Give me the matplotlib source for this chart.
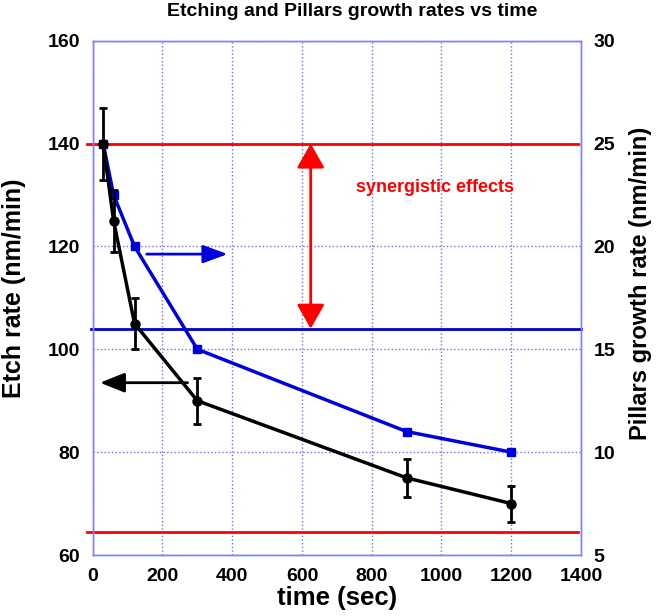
import numpy as np
import matplotlib.pyplot as plt

plt.rcParams['font.family'] = ['Liberation Sans', 'DejaVu Sans']
plt.rcParams['font.weight'] = 'bold'

# data
time_s = [30, 60, 120, 300, 900, 1200]
etch_rate = [140, 125, 105, 90, 75, 70]
etch_err_lo = [7, 6, 5, 4.5, 3.7, 3.5]
etch_err_hi = [7, 6, 5, 4.5, 3.7, 3.5]
pillar_rate = [25, 22.5, 20, 15, 11, 10]
x_ticks = [0, 200, 400, 600, 800, 1000, 1200, 1400]
left_ticks = [60, 80, 100, 120, 140, 160]
right_ticks = [5, 10, 15, 20, 25, 30]
red_levels = [140, 64.5]   # on etch-rate scale
blue_level = 104

grid_c = '#6f6fff'

fig = plt.figure(figsize=(6.61, 6.16), dpi=100)
ax = fig.add_axes([0.1402, 0.099, 0.7388, 0.835])
ax2 = ax.twinx()

ax.set_xlim(0, 1400)
ax.set_ylim(60, 160)
ax2.set_ylim(5, 30)
ax.set_xticks(x_ticks, labels=[str(v) for v in x_ticks], fontweight='bold')
ax.set_yticks(left_ticks, labels=[str(v) for v in left_ticks], fontweight='bold')
ax2.set_yticks(right_ticks, labels=[str(v) for v in right_ticks], fontweight='bold')

ax.grid(True, color=grid_c, linestyle=':', linewidth=1)
for a in (ax, ax2):
    for s in a.spines.values():
        s.set_color('#8080ff')
        s.set_linewidth(1)
    a.tick_params(length=0, labelsize=14, pad=9)
ax.tick_params(axis='x', pad=9)

# horizontal reference lines
for lv in red_levels:
    ax.plot([-17, 1392], [lv, lv], color='red', lw=2, clip_on=False, zorder=2)
ax.plot([-5, 1400], [blue_level, blue_level], color='#0000cc', lw=2, clip_on=False, zorder=2)

# pillars growth rate (right axis, drawn in left-axis units)
pill_left = [60 + (p - 5) * 4 for p in pillar_rate]
ax.plot(time_s, pill_left, color='#0000dd', lw=2.5, marker='s', ms=6, zorder=4)

# etch rate with error bars
ax.errorbar(time_s, etch_rate, yerr=[etch_err_lo, etch_err_hi], color='black',
            lw=2.5, marker='o', ms=6.5, capsize=2.8, elinewidth=2, capthick=2, zorder=5)

# arrows
ax.annotate('', xy=(395, 118.5), xytext=(147, 118.5),
            arrowprops=dict(arrowstyle='-|>,head_length=1.5,head_width=0.55',
                            color='#0000dd', lw=2))
ax.annotate('', xy=(13, 93.5), xytext=(280, 93.5),
            arrowprops=dict(arrowstyle='-|>,head_length=1.5,head_width=0.6',
                            color='black', lw=2))
ax.annotate('', xy=(625, 140), xytext=(625, 104),
            arrowprops=dict(arrowstyle='<|-|>,head_length=1.5,head_width=0.85',
                            color='red', lw=2, shrinkA=0, shrinkB=0))
ax.text(980, 131.4, 'synergistic effects', color='red', fontsize=13,
        fontweight='bold', ha='center', va='center')

# axis titles placed in figure pixels
W, H = 661, 616
fig.text(337 / W, 1 - 598 / H, 'time (sec)', fontsize=18.5, fontweight='bold',
         ha='center', va='center')
fig.text(14 / W, 1 - 288 / H, 'Etch rate (nm/min)', fontsize=18, fontweight='bold',
         ha='center', va='center', rotation=90)
fig.text(641 / W, 1 - 283 / H, 'Pillars growth rate (nm/min)', fontsize=17,
         fontweight='bold', ha='center', va='center', rotation=90)
fig.text(352 / W, 1 - 12 / H, 'Etching and Pillars growth rates vs time', ha='center',
         va='center', fontsize=14, fontweight='bold')

fig.savefig('out.png', dpi=100)
